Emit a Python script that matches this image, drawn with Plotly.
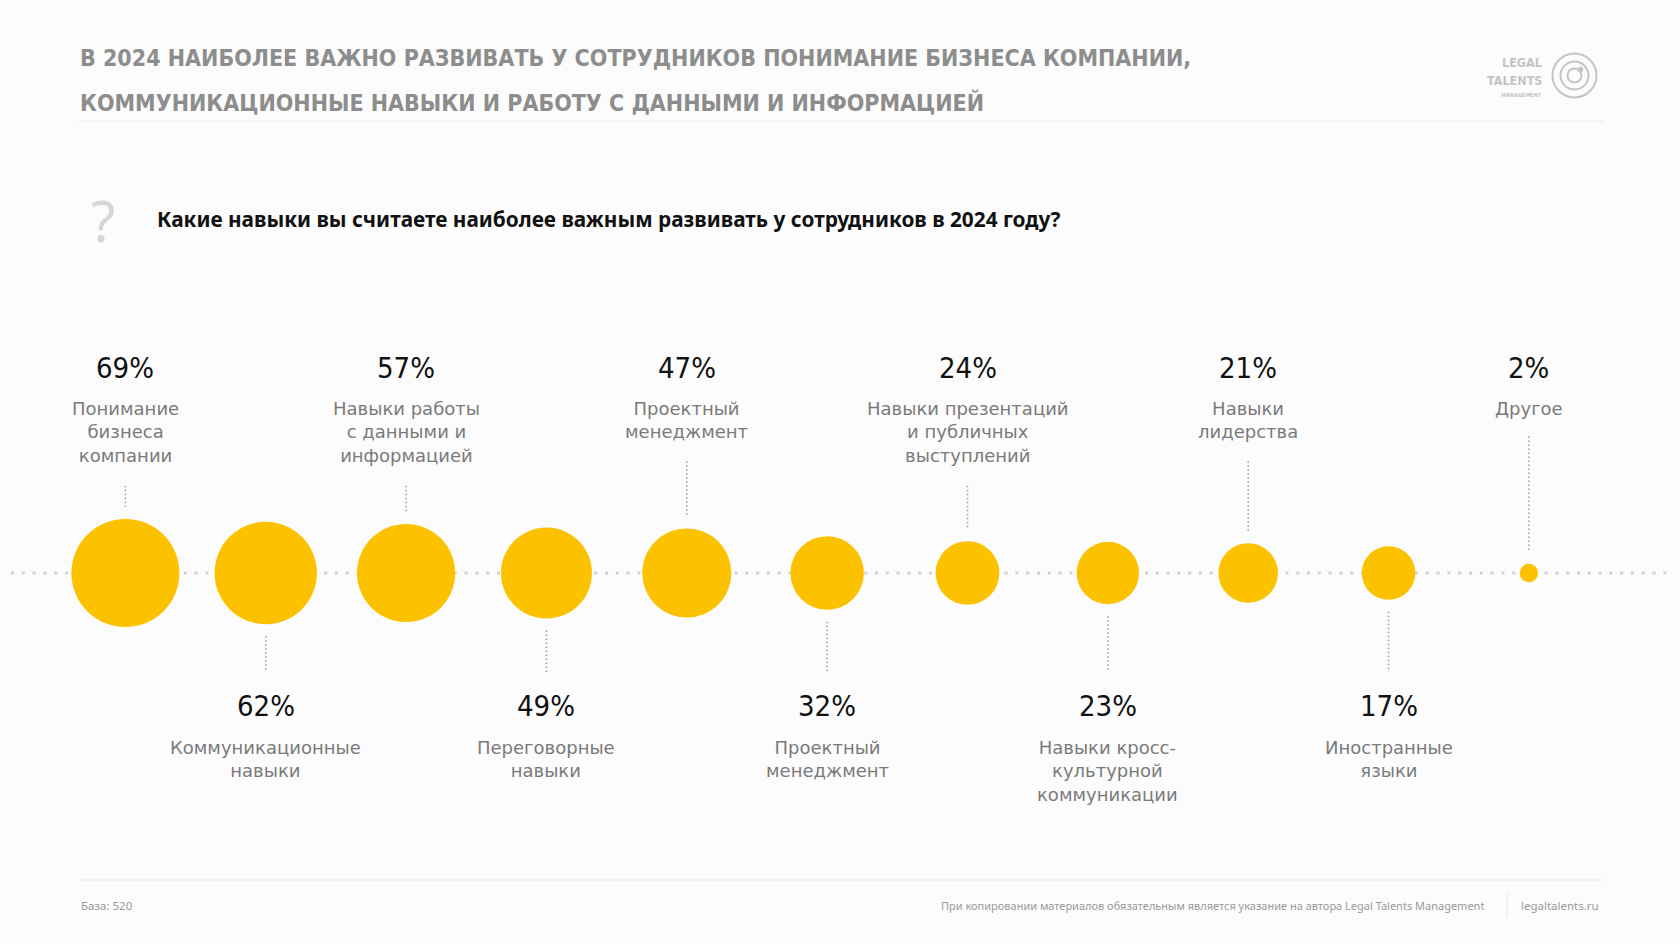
import math
import plotly.graph_objects as go

# ---------------- data ----------------
categories = [
    "Понимание\nбизнеса\nкомпании",
    "Коммуникационные\nнавыки",
    "Навыки работы\nс данными и\nинформацией",
    "Переговорные\nнавыки",
    "Проектный\nменеджмент",
    "Проектный\nменеджмент",
    "Навыки презентаций\nи публичных\nвыступлений",
    "Навыки кросс-\nкультурной\nкоммуникации",
    "Навыки\nлидерства",
    "Иностранные\nязыки",
    "Другое",
]
values = [69, 62, 57, 49, 47, 32, 24, 23, 21, 17, 2]

title_lines = [
    "В 2024 НАИБОЛЕЕ ВАЖНО РАЗВИВАТЬ У СОТРУДНИКОВ ПОНИМАНИЕ БИЗНЕСА КОМПАНИИ,",
    "КОММУНИКАЦИОННЫЕ НАВЫКИ И РАБОТУ С ДАННЫМИ И ИНФОРМАЦИЕЙ",
]
question = "Какие навыки вы считаете наиболее важным развивать у сотрудников в 2024 году?"
base_note = "База: 520"
copyright_note = "При копировании материалов обязательным является указание на автора Legal Talents Management"
site = "legaltalents.ru"

# ---------------- layout constants ----------------
W, H = 1680, 944
BASE_Y = 573
X0, STEP = 125.4, 140.35
MAX_D = 108
sizeref = 2 * max(values) / MAX_D ** 2

NARROW = "DejaVu Sans Condensed, Liberation Sans Narrow, sans-serif"
BODY = "DejaVu Sans, Noto Sans, sans-serif"
YELLOW = "#FCC200"


def radius(v):
    return math.sqrt(v / 2 / sizeref)


def px(x):
    return x / W


def py(y):
    return 1 - y / H


n = len(values)
fig = go.Figure()
fig.add_trace(go.Scatter(
    x=list(range(n)), y=[0] * n, mode="markers",
    marker=dict(size=values, sizemode="area", sizeref=sizeref, color=YELLOW, opacity=1,
                line=dict(width=0)),
    text=[c.replace("\n", " ") + f": {v}%" for c, v in zip(categories, values)],
    hoverinfo="text", showlegend=False,
))

shapes = []
annotations = []

# baseline dotted
shapes.append(dict(type="line", xref="paper", yref="y", x0=px(11), x1=px(1672), y0=0, y1=0,
                   line=dict(color="#d3d3d3", width=3, dash="3px,7.8px"), layer="below"))

TOP_LABEL = 396
BOT_LABEL = 735
for i, (cat, v) in enumerate(zip(categories, values)):
    r = radius(v)
    nl = cat.count("\n") + 1
    top = (i % 2 == 0)
    if top:
        y_start = TOP_LABEL + nl * 24.6 + 16
        y_end = BASE_Y - r - 12
        pct_y, lab_y = 368, TOP_LABEL
    else:
        y_start = BASE_Y + r + 12
        y_end = 672
        pct_y, lab_y = 706, BOT_LABEL
    shapes.append(dict(type="line", xref="x", yref="paper", x0=i, x1=i, y0=py(y_start), y1=py(y_end),
                       line=dict(color="#9a9a9a", width=1.5, dash="1.5px,2.5px"), layer="below"))
    annotations.append(dict(xref="x", yref="paper", x=i, y=py(pct_y), text=f"{v}%", showarrow=False,
                            xanchor="center", yanchor="middle",
                            font=dict(family=NARROW, size=29, color="#111111")))
    annotations.append(dict(xref="x", yref="paper", x=i, y=py(lab_y), text=cat.replace("\n", "<br>"),
                            showarrow=False, xanchor="center", yanchor="top", align="center",
                            font=dict(family=BODY, size=18, color="#7a7a7a")))

# title
for line, yy in zip(title_lines, [58, 102]):
    annotations.append(dict(xref="paper", yref="paper", x=px(78), y=py(yy), text=line, showarrow=False,
                            xanchor="left", yanchor="middle",
                            font=dict(family=NARROW, size=23, color="#8d8d8d", weight=700)))
shapes.append(dict(type="line", xref="paper", yref="paper", x0=px(78), x1=px(1604), y0=py(121), y1=py(121),
                   line=dict(color="#ececec", width=1)))
shapes.append(dict(type="line", xref="paper", yref="paper", x0=px(78), x1=px(1604), y0=py(880), y1=py(880),
                   line=dict(color="#ececec", width=1)))

# question
annotations.append(dict(xref="paper", yref="paper", x=px(103), y=py(220), text="?", showarrow=False,
                        xanchor="center", yanchor="middle",
                        font=dict(family="Noto Sans, sans-serif", size=56, color="#d6d6d6", weight=400)))
annotations.append(dict(xref="paper", yref="paper", x=px(155), y=py(219), text=question, showarrow=False,
                        xanchor="left", yanchor="middle",
                        font=dict(family="Noto Sans, sans-serif", size=20.8, color="#111111", weight=700)))

# footer
annotations.append(dict(xref="paper", yref="paper", x=px(79), y=py(905), text=base_note, showarrow=False,
                        xanchor="left", yanchor="middle",
                        font=dict(family="Noto Sans, sans-serif", size=11.5, color="#9a9a9a")))
annotations.append(dict(xref="paper", yref="paper", x=px(1486), y=py(905), text=copyright_note, showarrow=False,
                        xanchor="right", yanchor="middle",
                        font=dict(family="Noto Sans, sans-serif", size=11, color="#9a9a9a")))
annotations.append(dict(xref="paper", yref="paper", x=px(1601), y=py(905), text=site, showarrow=False,
                        xanchor="right", yanchor="middle",
                        font=dict(family="Noto Sans, sans-serif", size=11.5, color="#9a9a9a")))
shapes.append(dict(type="line", xref="paper", yref="paper", x0=px(1507), x1=px(1507), y0=py(893), y1=py(917),
                   line=dict(color="#e6e6e6", width=1)))

# logo
LOGO_GRAY = "#c4c4c4"
for txt, yy, sz in [("LEGAL", 62, 12.5), ("TALENTS", 80.5, 12.5), ("MANAGEMENT", 95, 5.5)]:
    annotations.append(dict(xref="paper", yref="paper", x=px(1544), y=py(yy), text=txt, showarrow=False,
                            xanchor="right", yanchor="middle",
                            font=dict(family=NARROW, size=sz, color=LOGO_GRAY, weight=700)))
cx, cy = 1574.5, 75.5
for rr in (22, 14, 7):
    shapes.append(dict(type="circle", xref="paper", yref="paper",
                       x0=px(cx - rr), x1=px(cx + rr), y0=py(cy + rr), y1=py(cy - rr),
                       line=dict(color=LOGO_GRAY, width=2)))
shapes.append(dict(type="circle", xref="paper", yref="paper",
                   x0=px(1578), x1=px(1583), y0=py(72), y1=py(67),
                   line=dict(color=LOGO_GRAY, width=1), fillcolor=LOGO_GRAY))

fig.update_layout(
    width=W, height=H, margin=dict(l=0, r=0, t=0, b=0),
    paper_bgcolor="#fcfcfc", plot_bgcolor="#fcfcfc",
    xaxis=dict(range=[-X0 / STEP, (W - X0) / STEP], visible=False, fixedrange=True),
    yaxis=dict(range=[-(H - BASE_Y), BASE_Y], visible=False, fixedrange=True),
    shapes=shapes, annotations=annotations, showlegend=False,
)

fig.write_html("out.html", config={"displayModeBar": False},
               post_script="document.body.style.margin='0';document.body.style.overflow='hidden';")
